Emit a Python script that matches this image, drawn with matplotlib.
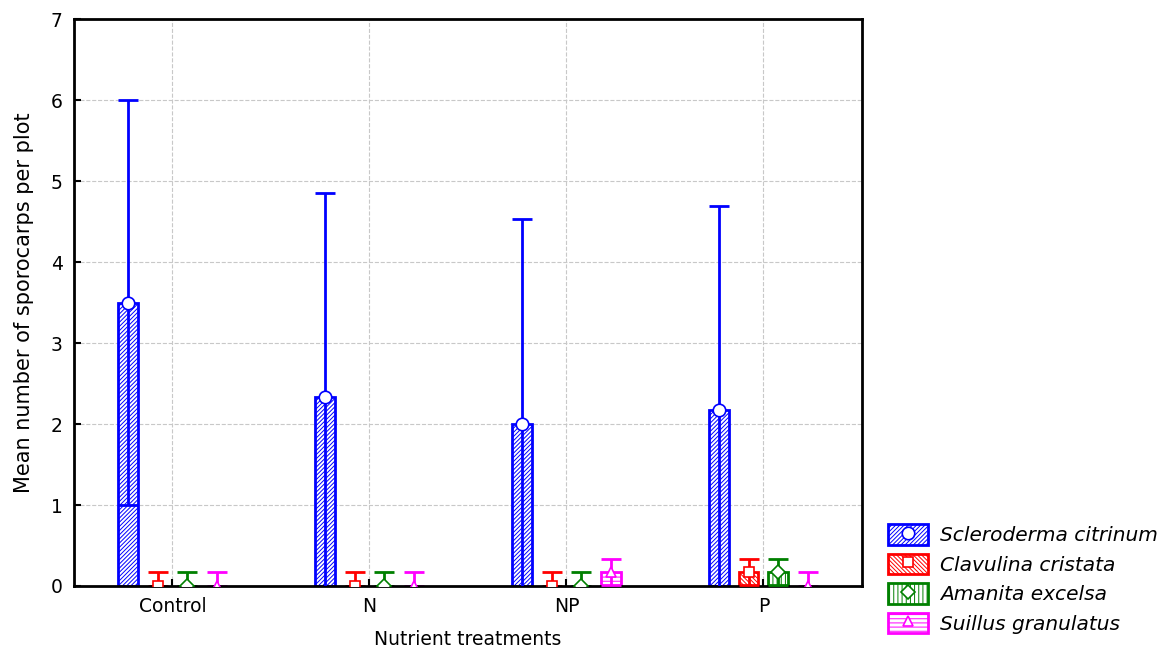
import numpy as np
import matplotlib
matplotlib.use('Agg')
import matplotlib.pyplot as plt
from matplotlib.patches import Patch
from matplotlib.lines import Line2D

plt.rcParams['font.family'] = ['DejaVu Sans']
plt.rcParams['hatch.linewidth'] = 0.7

treatments = ['Control', 'N', 'NP', 'P']
species = ['Scleroderma citrinum', 'Clavulina cristata', 'Amanita excelsa', 'Suillus granulatus']
colors = ['blue', 'red', 'green', 'magenta']
hatches = ['////////', '\\\\\\\\\\\\\\\\', '||||', '----']
markers = ['o', 's', 'D', '^']

# mean sporocarps per plot and error (+/-) for each species, by treatment
means = [
    [3.5, 2.33, 2.0, 2.17],
    [0.0, 0.0, 0.0, 0.17],
    [0.0, 0.0, 0.0, 0.17],
    [0.0, 0.0, 0.17, 0.0],
]
errs = [
    [2.5, 2.52, 2.53, 2.52],
    [0.17, 0.17, 0.17, 0.16],
    [0.17, 0.17, 0.17, 0.16],
    [0.17, 0.17, 0.16, 0.17],
]

fig = plt.figure(figsize=(11.63, 6.64), dpi=100)
ax = fig.add_axes([0.0636, 0.1175, 0.6775, 0.8535])

x = np.arange(len(treatments))
width = 0.1
offsets = [-0.225, -0.075, 0.075, 0.225]

for i in range(len(species)):
    xs = x + offsets[i]
    ax.bar(xs, means[i], width, facecolor='white', edgecolor=colors[i],
           hatch=hatches[i], linewidth=2, zorder=2)
    ax.errorbar(xs, means[i], yerr=errs[i], fmt='none', ecolor=colors[i],
                elinewidth=2, capsize=7.5, capthick=2, zorder=3)
    ax.plot(xs, means[i], linestyle='none', marker=markers[i], markersize=9 if i == 0 else 7,
            markerfacecolor='white', markeredgecolor=colors[i], markeredgewidth=1.2, zorder=4)

ax.set_xlim(-0.5, 3.5)
ax.set_ylim(0, 7)
ax.set_xticks(x)
ax.set_xticklabels(treatments)
ax.set_yticks(range(8))
ax.grid(True, color='#c8c8c8', linestyle='--', linewidth=0.8, zorder=0)
ax.set_axisbelow(True)
for s in ax.spines.values():
    s.set_linewidth(2)
ax.tick_params(direction='in', length=5, width=1.5, labelsize=13.5, pad=8)
ax.set_xlabel('Nutrient treatments', fontsize=13.5, labelpad=10)
ax.set_ylabel('Mean number of sporocarps per plot', fontsize=15, labelpad=12)

handles = []
for i in range(len(species)):
    p = Patch(facecolor='white', edgecolor=colors[i], hatch=hatches[i], linewidth=2)
    m = Line2D([], [], linestyle='none', marker=markers[i], markersize=9 if i == 0 else 7,
               markerfacecolor='white', markeredgecolor=colors[i], markeredgewidth=1.2)
    handles.append((p, m))
fig.legend(handles, species, loc='lower left', bbox_to_anchor=(0.748, 0.018),
           frameon=False, prop={'style': 'italic', 'size': 14.5},
           handlelength=2.0, handleheight=1.2, labelspacing=0.42, handletextpad=0.6)

fig.savefig('out.png', dpi=100)
